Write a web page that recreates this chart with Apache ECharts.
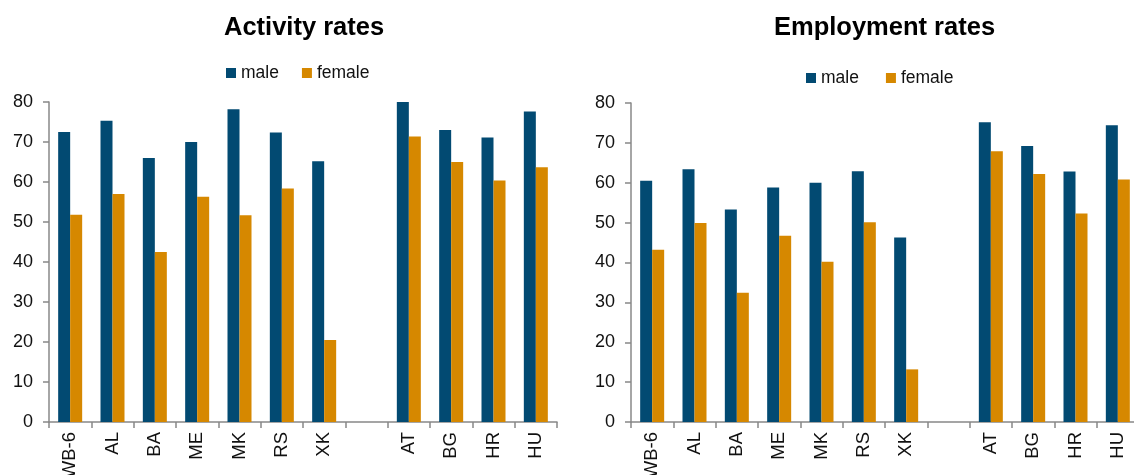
<!DOCTYPE html>
<html>
<head>
<meta charset="utf-8">
<script src="https://cdn.jsdelivr.net/npm/echarts@6/dist/echarts.min.js"></script>
<style>
html,body{margin:0;padding:0;background:#fff;}
#c{width:1134px;height:475px;}
</style>
</head>
<body>
<div id="c"></div>
<script>
var categories = ['WB-6','AL','BA','ME','MK','RS','XK','','AT','BG','HR','HU'];
var activityMale   = [72.5, 75.3, 66.0, 70.0, 78.2, 72.4, 65.2, '-', 80.0, 73.0, 71.1, 77.6];
var activityFemale = [51.8, 57.0, 42.5, 56.3, 51.7, 58.4, 20.5, '-', 71.4, 65.0, 60.4, 63.7];
var employMale     = [60.5, 63.4, 53.3, 58.8, 60.0, 62.9, 46.3, '-', 75.2, 69.2, 62.8, 74.4];
var employFemale   = [43.2, 49.9, 32.4, 46.7, 40.2, 50.1, 13.2, '-', 67.9, 62.2, 52.3, 60.8];
var yTicks = [0, 10, 20, 30, 40, 50, 60, 70, 80];

var MALE = '#024A72', FEMALE = '#D68800';
var FONT = '"Liberation Sans", Arial, sans-serif';

function xAxis(idx) {
  return {
    type: 'category', gridIndex: idx, data: categories,
    axisLine: {lineStyle: {color: '#888', width: 1.5}},
    axisTick: {show: true, length: 6, alignWithLabel: false, lineStyle: {color: '#888', width: 1.5}},
    axisLabel: {rotate: 90, interval: 0, margin: 10, fontSize: 18.5, color: '#111', fontFamily: FONT}
  };
}
function yAxis(idx, margin) {
  return {
    type: 'value', gridIndex: idx, min: yTicks[0], max: yTicks[yTicks.length - 1], interval: 10,
    splitLine: {show: false},
    axisLine: {show: true, lineStyle: {color: '#888', width: 1.5}},
    axisTick: {show: true, length: 6, lineStyle: {color: '#888', width: 1.5}},
    axisLabel: {fontSize: 18, color: '#111', margin: margin, fontFamily: FONT}
  };
}
function bar(name, data, idx, color) {
  return {
    name: name, type: 'bar', xAxisIndex: idx, yAxisIndex: idx, data: data,
    barWidth: 12, barGap: '0%',
    itemStyle: {color: color}
  };
}

var chart = echarts.init(document.getElementById('c'), null, {renderer: 'canvas'});
chart.setOption({
  animation: false,
  color: [MALE, FEMALE],
  title: [
    {text: 'Activity rates', left: 219, top: 10, textStyle: {fontSize: 25.5, fontWeight: 'bold', color: '#000', fontFamily: FONT}},
    {text: 'Employment rates', left: 769, top: 10, textStyle: {fontSize: 25.5, fontWeight: 'bold', color: '#000', fontFamily: FONT}}
  ],
  legend: [
    {data: ['male', 'female'], left: 221, top: 59, itemWidth: 10, itemHeight: 10, itemGap: 23,
     icon: 'rect', textStyle: {fontSize: 17.5, color: '#111', fontFamily: FONT}},
    {data: ['male', 'female'], left: 801, top: 64, itemWidth: 10, itemHeight: 10, itemGap: 27,
     icon: 'rect', textStyle: {fontSize: 17.5, color: '#111', fontFamily: FONT}}
  ],
  grid: [
    {left: 49, top: 102, width: 508, bottom: 53, containLabel: false, outerBoundsMode: 'none'},
    {left: 631, top: 103, width: 508, bottom: 53, containLabel: false, outerBoundsMode: 'none'}
  ],
  xAxis: [xAxis(0), xAxis(1)],
  yAxis: [yAxis(0, 16), yAxis(1, 16)],
  series: [
    bar('male', activityMale, 0, MALE),
    bar('female', activityFemale, 0, FEMALE),
    bar('male', employMale, 1, MALE),
    bar('female', employFemale, 1, FEMALE)
  ]
});
</script>
</body>
</html>
